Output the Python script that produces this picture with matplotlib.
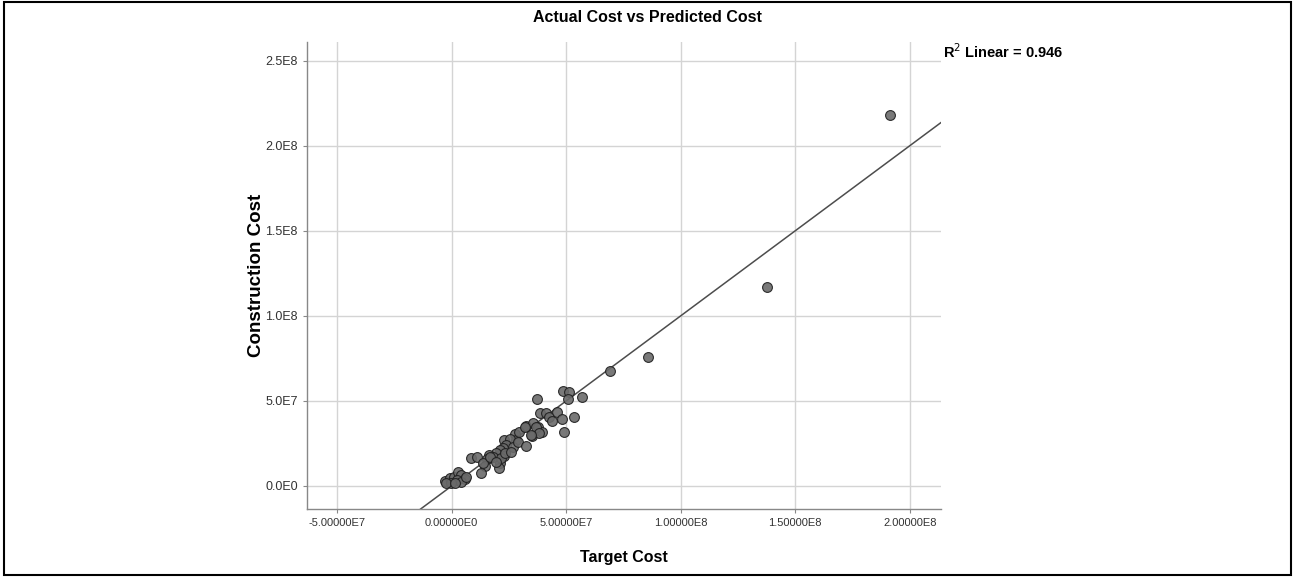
import matplotlib
matplotlib.use('Agg')
from matplotlib import pyplot as plt
from matplotlib.patches import Rectangle
import numpy as np

plt.rcParams['font.family'] = ['Liberation Sans Narrow', 'Liberation Sans', 'DejaVu Sans']

# target cost vs construction cost, read in millions
target_cost = [191.4, 137.7, 85.9, 69.3, 57.1, 37.2, 48.5, 51.1, 50.9, 38.7,
               41.0, 42.7, 43.9, 45.9, 48.3, 53.2, 49.1, 32.6, 35.4, 37.6,
               39.5, 35.2, 27.5, 28.2, 22.7, 25.3, 23.8, 26.7, 28.9, 32.6,
               22.4, 20.9, 19.2, 16.3, 15.4, 22.7, 21.2, 20.6, 14.4, 12.9,
               8.6, 11.0, 18.0, -2.7, -0.9, 1.0, 2.7, 4.2, 5.7, 2.5,
               -0.1, -2.3, 4.2, 6.4, 1.3, 21.7, 23.1, 26.0, 29.6, 31.8,
               36.9, 38.1, 34.7, 13.6, 16.6, 19.5]
construction_cost = [218.2, 117.1, 75.9, 67.6, 52.4, 51.2, 56.1, 55.1, 51.0, 43.1,
                     42.8, 40.8, 38.4, 43.3, 39.2, 40.8, 31.9, 35.3, 37.2, 34.9,
                     31.9, 29.4, 30.6, 27.1, 27.1, 27.5, 24.1, 22.8, 26.1, 23.7,
                     22.2, 21.2, 19.6, 18.2, 15.7, 17.6, 13.7, 10.4, 11.8, 7.5,
                     16.3, 16.9, 17.2, 3.1, 4.5, 5.5, 8.4, 6.5, 3.9, 3.5,
                     1.9, 1.6, 2.5, 5.5, 1.8, 16.3, 19.2, 20.2, 31.9, 34.9,
                     34.9, 31.0, 30.0, 13.4, 17.2, 14.3]

# fit line
fit_slope = 1.0
fit_intercept = 0.0
r_squared = 0.946

x_ticks = [-5e7, 0, 5e7, 1e8, 1.5e8, 2e8]
x_tick_labels = ['-5.00000E7', '0.00000E0', '5.00000E7', '1.00000E8', '1.50000E8', '2.00000E8']
y_ticks = [0, 5e7, 1e8, 1.5e8, 2e8, 2.5e8]
y_tick_labels = ['0.0E0', '5.0E7', '1.0E8', '1.5E8', '2.0E8', '2.5E8']

x = np.array(target_cost) * 1e6
y = np.array(construction_cost) * 1e6

fig = plt.figure(figsize=(12.95, 5.77), dpi=100)
ax = fig.add_axes([0.237, 0.118, 0.4896, 0.8093])

ax.set_xlim(-6.32e7, 2.136e8)
ax.set_ylim(-1.35e7, 2.61e8)

ax.grid(True, color='#d4d4d4', linewidth=1.0)
ax.set_axisbelow(True)

xl = np.array(ax.get_xlim())
ax.plot(xl, fit_slope * xl + fit_intercept, color='#4d4d4d', linewidth=1.1, zorder=2)

ax.scatter(x, y, s=50, color='#6a6a6a', edgecolors='#1e1e1e', linewidths=0.8,
           alpha=0.9, zorder=3)

ax.set_xticks(x_ticks)
ax.set_xticklabels(x_tick_labels, fontsize=8)
ax.set_yticks(y_ticks)
ax.set_yticklabels(y_tick_labels, fontsize=9)
ax.tick_params(labelcolor='#333333', length=3, width=0.8, color='#888888')

for side in ['top', 'right']:
    ax.spines[side].set_visible(False)
for side in ['left', 'bottom']:
    ax.spines[side].set_color('#888888')
    ax.spines[side].set_linewidth(1.0)

ax.set_xlabel('Target Cost', fontsize=11.5, fontweight='bold', labelpad=16)
ax.set_ylabel('Construction Cost', fontsize=13.5, fontweight='bold',
              family=['Liberation Sans', 'DejaVu Sans'])
ax.yaxis.set_label_coords(-0.066, 0.5)

fig.text(0.5, 0.982, 'Actual Cost vs Predicted Cost', ha='center', va='top',
         fontsize=11.5, fontweight='bold')
fig.text(0.728, 0.91, 'R$^2$ Linear = %.3f' % r_squared, ha='left', va='center',
         fontsize=10.5, fontweight='bold')

fig.patches.append(Rectangle((0.003, 0.003), 0.994, 0.994, transform=fig.transFigure,
                             fill=False, edgecolor='black', linewidth=1.5))

fig.savefig('out.png', dpi=100)
